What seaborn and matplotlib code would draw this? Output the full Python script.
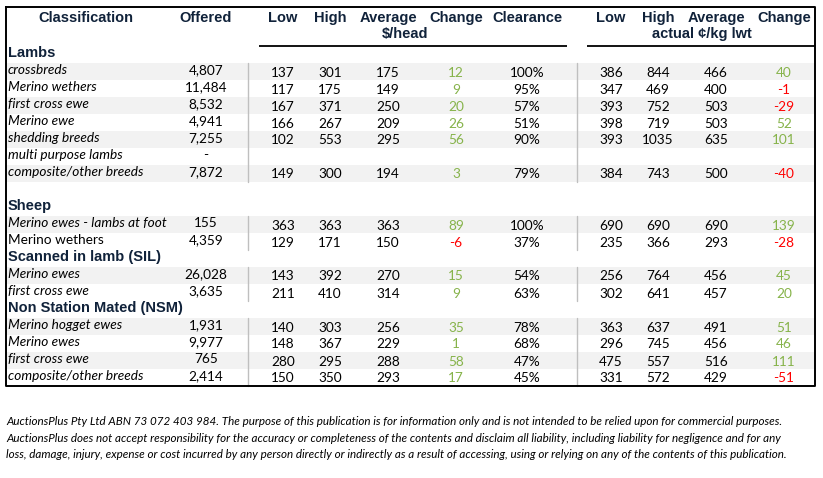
import matplotlib
matplotlib.use("Agg")
import matplotlib.pyplot as plt
import seaborn as sns

# table contents
sections = ["Lambs", "Sheep", "Scanned in lamb (SIL)", "Non Station Mated (NSM)"]
section_rows = [7, 2, 2, 4]

labels = ["crossbreds", "Merino wethers", "first cross ewe", "Merino ewe", "shedding breeds",
          "multi purpose lambs", "composite/other breeds",
          "Merino ewes - lambs at foot", "Merino wethers",
          "Merino ewes", "first cross ewe",
          "Merino hogget ewes", "Merino ewes", "first cross ewe", "composite/other breeds"]
italic = [True, True, True, True, True, True, True,
          True, False,
          True, True,
          True, True, True, True]
offered = ["4,807", "11,484", "8,532", "4,941", "7,255", "-", "7,872",
           "155", "4,359", "26,028", "3,635", "1,931", "9,977", "765", "2,414"]
low_head = [137, 117, 167, 166, 102, None, 149, 363, 129, 143, 211, 140, 148, 280, 150]
high_head = [301, 175, 371, 267, 553, None, 300, 363, 171, 392, 410, 303, 367, 295, 350]
avg_head = [175, 149, 250, 209, 295, None, 194, 363, 150, 270, 314, 256, 229, 288, 293]
chg_head = [12, 9, 20, 26, 56, None, 3, 89, -6, 15, 9, 35, 1, 58, 17]
clearance = ["100%", "95%", "57%", "51%", "90%", None, "79%",
             "100%", "37%", "54%", "63%", "78%", "68%", "47%", "45%"]
low_kg = [386, 347, 393, 398, 393, None, 384, 690, 235, 256, 302, 363, 296, 475, 331]
high_kg = [844, 469, 752, 719, 1035, None, 743, 690, 366, 764, 641, 637, 745, 557, 572]
avg_kg = [466, 400, 503, 503, 635, None, 500, 690, 293, 456, 457, 491, 456, 516, 429]
chg_kg = [40, -1, -29, 52, 101, None, -40, 139, -28, 45, 20, 51, 46, 111, -51]

headers = ["Classification", "Offered", "Low", "High", "Average", "Change", "Clearance",
           "Low", "High", "Average", "Change"]
footer = ("AuctionsPlus Pty Ltd ABN 73 072 403 984. The purpose of this publication is for information only "
          "and is not intended to be relied upon for commercial purposes.\n"
          "AuctionsPlus does not accept responsibility for the accuracy or completeness of the contents and "
          "disclaim all liability, including liability for negligence and for any\n"
          "loss, damage, injury, expense or cost incurred by any person directly or indirectly as a result of "
          "accessing, using or relying on any of the contents of this publication.")

sns.set_theme(style="white")
plt.rcParams["font.family"] = ["Lato", "DejaVu Sans"]

NAVY = "#10223a"
GREEN = "#86b34a"
RED = "#ff0000"
SHADE = "#f2f2f2"
GRID = "#bfbfbf"
BODY = 9.8

fig = plt.figure(figsize=(8.23, 4.78), dpi=100)
ax = fig.add_axes([0, 0, 1, 1])
ax.set_xlim(0, 823)
ax.set_ylim(478, 0)
ax.axis("off")

L, R, T, B = 6, 815, 7, 386
ROW = 17
col_x = [None, 206, 283, 330, 388, 456, 527, 611, 658, 716, 784]
head_font = dict(family="Liberation Sans", fontweight="bold", fontsize=10.5, color=NAVY)

# header
ax.text(86, 18, headers[0], ha="center", va="center", **head_font)
for x, h in zip(col_x[1:], headers[1:]):
    ax.text(x, 18, h, ha="center", va="center", **head_font)
ax.text(405, 34, "$/head", ha="center", va="center", **head_font)
ax.text(702, 34, "actual ¢/kg lwt", ha="center", va="center", **head_font)
ax.plot([259, 567], [46, 46], color="black", lw=1.3, solid_capstyle="butt")
ax.plot([587, R], [46, 46], color="black", lw=1.3, solid_capstyle="butt")

starts = [63, 216, 267, 318]
num_cols = [low_head, high_head, avg_head, chg_head, clearance, low_kg, high_kg, avg_kg, chg_kg]

i = 0
for sec, n, y0 in zip(sections, section_rows, starts):
    ax.text(8, y0 - 10, sec, ha="left", va="center", **head_font)
    for k in range(n):
        top = y0 + k * ROW
        if k % 2 == 0:
            ax.fill_between([L, R], top, top + ROW, color=SHADE, lw=0)
        yc = top + ROW / 2
        ax.text(8, yc - 1.5, labels[i], ha="left", va="center", fontsize=BODY,
                style="italic" if italic[i] else "normal", color="black")
        ax.text(col_x[1], yc - 1.5, offered[i], ha="center", va="center", fontsize=BODY, color="black")
        for j, col in enumerate(num_cols):
            v = col[i]
            if v is None:
                continue
            color = "black"
            if j in (3, 8):
                color = RED if v < 0 else GREEN
            ax.text(col_x[j + 2], yc + 1, str(v), ha="center", va="center", fontsize=BODY, color=color)
        i += 1
    ax.plot([248, 248], [y0, y0 + n * ROW], color=GRID, lw=1)
    ax.plot([577, 577], [y0, y0 + n * ROW], color=GRID, lw=1)

# outer frame
ax.plot([L, R, R, L, L], [T, T, B, B, T], color="black", lw=1.4)

ax.text(6, 438, footer, ha="left", va="center", fontsize=8.4, style="italic",
        linespacing=1.65, color="black")

fig.savefig("out.png", dpi=100)
